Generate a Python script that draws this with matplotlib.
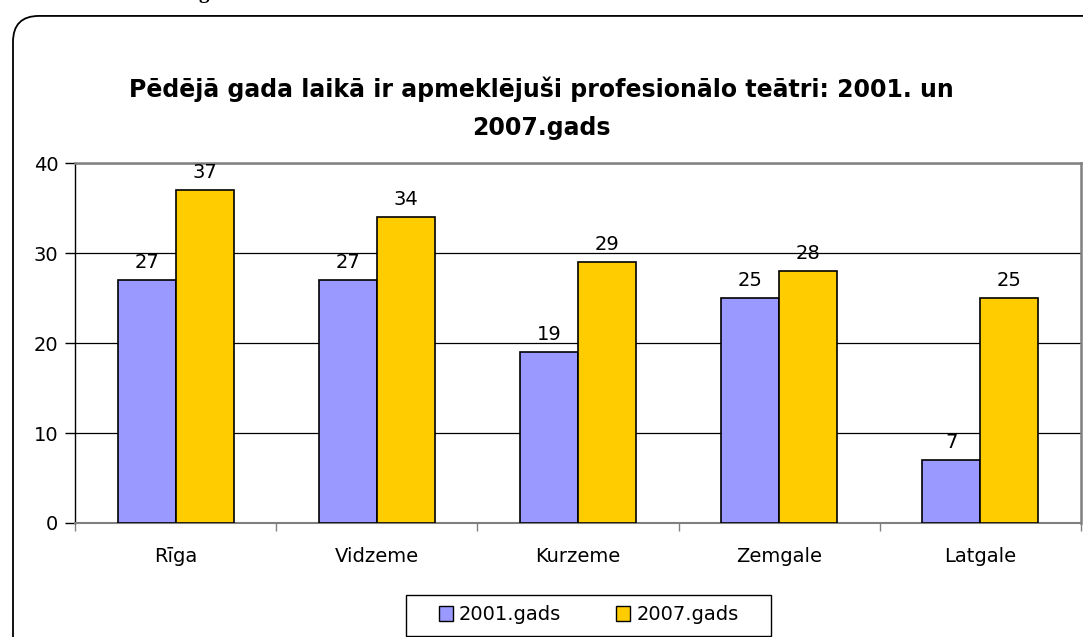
import numpy as np
import matplotlib.pyplot as plt
from matplotlib.patches import FancyBboxPatch, Patch, Rectangle

# data
regions = ["Rīga", "Vidzeme", "Kurzeme", "Zemgale", "Latgale"]
vals_2001 = [27, 27, 19, 25, 7]
vals_2007 = [37, 34, 29, 28, 25]
series_names = ["2001.gads", "2007.gads"]
title = "Pēdējā gada laikā ir apmeklējuši profesionālo teātri: 2001. un\n2007.gads"
y_ticks = [0, 10, 20, 30, 40]

# reference text is wide, DejaVu Sans comes closest
plt.rcParams['font.family'] = ['DejaVu Sans']

fig = plt.figure(figsize=(10.83, 6.37), dpi=100)

# rounded chart frame, runs off the right and bottom edge
frame = FancyBboxPatch((0.012, -0.1), 1.2, 1.0 - 0.025 + 0.1,
                       boxstyle="round,pad=0,rounding_size=0.024",
                       transform=fig.transFigure, facecolor="white",
                       edgecolor="black", linewidth=1.3,
                       mutation_aspect=1083 / 637, zorder=-5)
fig.patches.append(frame)

# cut-off text fragment above the chart (only the descender shows)
fig.text(0.188, 1.003, "g", family="Liberation Serif", fontweight="bold",
         fontsize=15, ha="center", va="baseline")

ax = fig.add_axes([0.0693, 0.179, 0.9287, 0.565])
ax.set_facecolor("none")

x = np.arange(len(regions))
w = 0.288
b1 = ax.bar(x - w / 2, vals_2001, w, color="#9999FF", edgecolor="black",
            linewidth=1.2, label=series_names[0], zorder=3)
b2 = ax.bar(x + w / 2, vals_2007, w, color="#FFCC00", edgecolor="black",
            linewidth=1.2, label=series_names[1], zorder=3)
for bars in (b1, b2):
    ax.bar_label(bars, padding=6, fontsize=14)

ax.set_xlim(-0.5, len(regions) - 0.5)
ax.set_ylim(0, 40)
ax.set_yticks(y_ticks)
ax.yaxis.grid(True, color="black", linewidth=0.9, zorder=0)
ax.tick_params(axis="y", labelsize=14, length=7, width=1, color="black", pad=5)

ax.set_xticks(x)
ax.set_xticklabels(regions, fontsize=14)
ax.tick_params(axis="x", length=0, pad=17)
ax.set_xticks(np.arange(len(regions) + 1) - 0.5, minor=True)
ax.tick_params(axis="x", which="minor", length=6, width=1, color="#808080")

for s in ("top", "right"):
    ax.spines[s].set_color("#808080")
    ax.spines[s].set_linewidth(1.8)
ax.spines["bottom"].set_color("#808080")
ax.spines["bottom"].set_linewidth(1.5)
ax.spines["left"].set_color("black")
ax.spines["left"].set_linewidth(1)

fig.text(0.5, 0.830, title, ha="center", va="center", fontsize=17,
         fontweight="bold", linespacing=1.75)

# legend box drawn separately: it has wide side padding in the reference
fig.patches.append(Rectangle((406 / 1083, 1.5 / 637), 365 / 1083, 41 / 637,
                             transform=fig.transFigure, facecolor="white",
                             edgecolor="black", linewidth=1, zorder=4))
handles = [Patch(facecolor="#9999FF", edgecolor="black", linewidth=1),
           Patch(facecolor="#FFCC00", edgecolor="black", linewidth=1)]
leg = fig.legend(handles, series_names, loc="center", bbox_to_anchor=(0.5434, 0.035),
                 ncol=2, fontsize=14, frameon=False,
                 handlelength=0.75, handleheight=0.75, handletextpad=0.3,
                 columnspacing=2.8, borderpad=0.3)
leg.set_zorder(5)

fig.savefig("out.png", dpi=100)
